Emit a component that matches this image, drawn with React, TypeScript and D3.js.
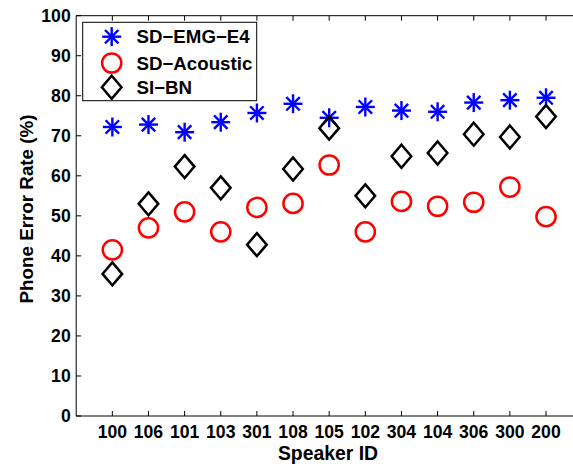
import React from "react";
import * as d3 from "d3";

const speakers = ["100", "106", "101", "103", "301", "108", "105", "102", "304", "104", "306", "300", "200"];
const sdEmgE4 = [72.2, 72.8, 70.9, 73.4, 75.7, 78.0, 74.5, 77.2, 76.3, 76.0, 78.3, 78.9, 79.5];
const sdAcoustic = [41.5, 47.0, 51.0, 46.0, 52.1, 53.1, 62.7, 46.0, 53.6, 52.4, 53.4, 57.2, 49.8];
const siBN = [35.5, 53.0, 62.3, 57.0, 42.8, 61.7, 71.9, 55.0, 64.9, 65.7, 70.4, 69.7, 74.8];
const yTicks = [0, 10, 20, 30, 40, 50, 60, 70, 80, 90, 100];
const legendLabels = ["SD\u2212EMG\u2212E4", "SD\u2212Acoustic", "SI\u2212BN"];

const FONT = "'Liberation Sans', Arial, Helvetica, sans-serif";

const Star = ({ cx, cy, r }: { cx: number; cy: number; r: number }) => {
  const d = r * Math.SQRT1_2;
  return (
    <g stroke="#0000ff" strokeWidth={2.4} strokeLinecap="butt">
      <line x1={cx - r} y1={cy} x2={cx + r} y2={cy} />
      <line x1={cx} y1={cy - r} x2={cx} y2={cy + r} />
      <line x1={cx - d} y1={cy - d} x2={cx + d} y2={cy + d} />
      <line x1={cx - d} y1={cy + d} x2={cx + d} y2={cy - d} />
    </g>
  );
};

const Circle = ({ cx, cy }: { cx: number; cy: number }) => (
  <circle cx={cx} cy={cy} r={9.6} fill="none" stroke="#ff0000" strokeWidth={2.5} />
);

const Diamond = ({ cx, cy }: { cx: number; cy: number }) => (
  <path
    d={`M${cx},${cy - 11.5}L${cx + 9.8},${cy}L${cx},${cy + 11.5}L${cx - 9.8},${cy}Z`}
    fill="none"
    stroke="#000"
    strokeWidth={2.5}
    strokeLinejoin="miter"
  />
);

export default function App() {
  const W = 573;
  const H = 464;
  const left = 76.2;
  const top = 15.7;
  const bottom = 416;
  const x = d3.scaleLinear().domain([0, 14]).range([left, left + 14 * 36.14]);
  const y = d3.scaleLinear().domain([0, 100]).range([bottom, top]);
  const right = x(14);
  const tickLen = 5;

  return (
    <div style={{ position: "fixed", left: 0, top: 0 }}>
      <svg width={W} height={H} style={{ display: "block", background: "#fff" }} fontFamily={FONT}>
        <rect x={0} y={0} width={W} height={H} fill="#fff" />
        {/* axes box */}
        <g stroke="#000" strokeWidth={1}>
          <line x1={left} y1={top} x2={right} y2={top} />
          <line x1={left} y1={bottom} x2={right} y2={bottom} />
          <line x1={left} y1={top} x2={left} y2={bottom} />
          <line x1={right} y1={top} x2={right} y2={bottom} />
          {yTicks.map((t) => (
            <g key={"yt" + t}>
              <line x1={left} y1={y(t)} x2={left + tickLen} y2={y(t)} />
              <line x1={right} y1={y(t)} x2={right - tickLen} y2={y(t)} />
            </g>
          ))}
          {speakers.map((s, i) => (
            <g key={"xt" + s}>
              <line x1={x(i + 1)} y1={bottom} x2={x(i + 1)} y2={bottom - tickLen} />
              <line x1={x(i + 1)} y1={top} x2={x(i + 1)} y2={top + tickLen} />
            </g>
          ))}
        </g>
        {/* tick labels */}
        <g fontWeight="bold" fontSize={17.6} fill="#000">
          {yTicks.map((t) => (
            <text key={"yl" + t} x={left - 5.5} y={y(t)} dy="0.36em" textAnchor="end">
              {t}
            </text>
          ))}
          {speakers.map((s, i) => (
            <text key={"xl" + s} x={x(i + 1)} y={437.5} textAnchor="middle">
              {s}
            </text>
          ))}
        </g>
        {/* axis titles */}
        <text x={328} y={460} textAnchor="middle" fontWeight="bold" fontSize={19.4}>
          Speaker ID
        </text>
        <text
          transform={`translate(32.5,209) rotate(-90)`}
          textAnchor="middle"
          fontWeight="bold"
          fontSize={18.8}
        >
          Phone Error Rate (%)
        </text>
        {/* data */}
        {sdEmgE4.map((v, i) => (
          <Star key={"s" + i} cx={x(i + 1)} cy={y(v)} r={9.5} />
        ))}
        {sdAcoustic.map((v, i) => (
          <Circle key={"c" + i} cx={x(i + 1)} cy={y(v)} />
        ))}
        {siBN.map((v, i) => (
          <Diamond key={"d" + i} cx={x(i + 1)} cy={y(v)} />
        ))}
        {/* legend */}
        <g>
          <rect x={82.7} y={22.3} width={174} height={78.4} fill="#fff" stroke="#000" strokeWidth={1} />
          <Star cx={111.7} cy={36.7} r={9.5} />
          <Circle cx={111.7} cy={63} />
          <Diamond cx={111.7} cy={87.3} />
          {legendLabels.map((l, i) => (
            <text
              key={l}
              x={136.5}
              y={[36.7, 63, 87.3][i]}
              dy="0.36em"
              fontWeight="bold"
              fontSize={18.7}
              fill="#000"
            >
              {l}
            </text>
          ))}
        </g>
      </svg>
    </div>
  );
}
